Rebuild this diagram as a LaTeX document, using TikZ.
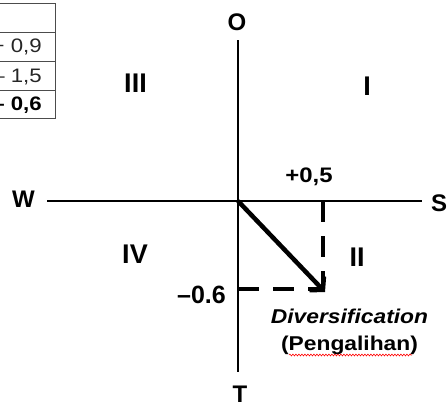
\documentclass[tikz,border=0pt]{standalone}
\usepackage{fontspec}
\setmainfont{Liberation Sans}
\newfontfamily\widefont{Liberation Sans}[FakeStretch=1.14]
\usetikzlibrary{arrows.meta,decorations.pathmorphing}
\tikzset{
  axis/.style={line width=2.3pt, black},
  lbl/.style={font=\fontsize{24}{26}\selectfont\bfseries, inner sep=0pt, anchor=base},
  quad/.style={font=\fontsize{27}{29}\selectfont\bfseries, inner sep=0pt, anchor=base},
  val/.style={font=\widefont\fontsize{21}{23}\selectfont\bfseries, inner sep=0pt, anchor=base},
  captxt/.style={font=\widefont\fontsize{20}{22}\selectfont\bfseries, inner sep=0pt, anchor=base},
  tab/.style={draw=black!70, line width=0.9pt},
  tabtxt/.style={font=\widefont\fontsize{19.5}{21}\selectfont, text=black!85, inner sep=0pt, anchor=base east},
  move/.style={line width=4.5pt, -{Straight Barb[length=9pt,width=20pt]}},
  proj/.style={line width=4pt, dash pattern=on 21pt off 14pt},
}
\begin{document}
\begin{tikzpicture}[x=1pt,y=-1pt]
\useasboundingbox (0,0) rectangle (447,405);
\clip (0,0) rectangle (447,405);
% table
\draw[tab] (-40,3) rectangle (55,118);
\draw[tab] (-40,32) -- (55,32);
\draw[tab] (-40,61) -- (55,61);
\draw[tab] (-40,90) -- (55,90);
\node[tabtxt] (r1) at (42,52) {+ 0,9};
\node[tabtxt] (r2) at (42,82) {\textendash\ 1,5};
\node[tabtxt, font=\widefont\fontsize{19.5}{21}\selectfont\bfseries, text=black] (r3) at (42,110) {\textendash\ 0,6};
% axes
\coordinate (o) at (238,201);
\coordinate (ytop) at (238,40);
\coordinate (ybot) at (238,372);
\coordinate (xleft) at (47,201);
\coordinate (xright) at (422,201);
\node[lbl] (O) at (237,30) {O};
\node[lbl] (T) at (240,402) {T};
\node[lbl] (W) at (23.5,207) {W};
\node[lbl] (S) at (439,211) {S};
\draw[axis] (ytop) -- (ybot);
\draw[axis] (xleft) -- (xright);
% quadrant labels
\node[quad] (q3) at (135.5,92) {III};
\node[quad] (q1) at (367,95) {I};
\node[quad] (q4) at (135,263) {IV};
\node[quad] (q2) at (357,266) {II};
% values
\node[val] (v1) at (309,182) {+0,5};
\node[lbl, anchor=base east, font=\fontsize{25}{27}\selectfont\bfseries] (v2) at (226,303) {\textendash0.6};
% projections
\coordinate (p) at (323,289);
\coordinate (tip) at (325,292);
\coordinate (px) at (323,201);
\coordinate (py) at (238,289);
\draw[proj] (px) -- (p);
\draw[proj] (py) -- (p);
\draw[move] (o) -- (tip);
% caption
\node[captxt, font=\widefont\fontsize{20}{22}\selectfont\bfseries\itshape] (d1) at (349.5,323) {Diversification};
\node[captxt] (d2) at (349.5,350) {(Pengalihan)};
\coordinate (w1) at (289,355);
\coordinate (w2) at (412,355);
\draw[red, line width=0.6pt, decorate, decoration={snake, amplitude=0.9pt, segment length=3pt}] (w1) -- (w2);
\end{tikzpicture}
\end{document}
